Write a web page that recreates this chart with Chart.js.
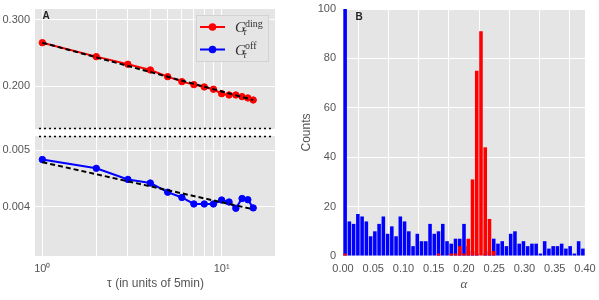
<!DOCTYPE html>
<html>
<head>
<meta charset="utf-8">
<script src="https://cdn.jsdelivr.net/npm/chart.js@4.4.1/dist/chart.umd.min.js"></script>
<style>
  html, body { margin: 0; padding: 0; background: #fff; }
  #wrap { position: relative; width: 599px; height: 300px; overflow: hidden; }
  canvas { position: absolute; }
</style>
</head>
<body>
<div id="wrap">
  <canvas id="aTop" width="290" height="130" style="left:0;top:0;"></canvas>
  <canvas id="aBot" width="290" height="170" style="left:0;top:130px;"></canvas>
  <canvas id="panelB" width="309" height="300" style="left:290px;top:0;"></canvas>
</div>
<script>
// ---- panel A data: correlation vs lag tau ----
const tau = [1, 2, 3, 4, 5, 6, 7, 8, 9, 10, 11, 12, 13, 14, 15];
const gDiag = [0.2606, 0.2394, 0.2286, 0.2208, 0.2120, 0.2057, 0.2020, 0.1992,
               0.1964, 0.1912, 0.1897, 0.1897, 0.1878, 0.1863, 0.1840];
const gOff = [0.004817, 0.004654, 0.004456, 0.004393, 0.004238, 0.004151, 0.004047, 0.004047,
              0.004047, 0.004110, 0.004078, 0.003979, 0.004135, 0.004115, 0.003985];
const fitTau = [1, 15];
const fitDiag = [0.2606, 0.1840];
const fitOff = [0.004768, 0.003963];
const tauTicks = [1, 2, 3, 4, 5, 6, 7, 8, 9, 10, 20];
const diagTicks = [0.2, 0.3];
const offTicks = [0.004, 0.005];
const legendNames = ["ding", "off"];

// ---- panel B data: histogram of alpha ----
const alphaMax = 0.4;
const alphaBlue = [130, 14, 13, 17, 16, 14, 8, 10, 13, 16, 9, 12, 8, 16, 14, 10, 4, 9, 6, 6,
                   13, 9, 10, 13, 6, 5, 7, 7, 13, 4, 2, 1, 0, 1, 2, 7, 5, 6, 4, 9,
                   10, 5, 6, 4, 5, 5, 1, 6, 3, 4, 4, 5, 3, 4, 1, 6, 3];
const alphaRed = [1, 0, 0, 0, 0, 0, 0, 0, 0, 0, 0, 0, 0, 0, 0, 0, 0, 0, 0, 0,
                  0, 0, 1, 0, 0, 1, 1, 4, 1, 7, 31, 75, 91, 44, 15, 2, 0, 0, 0, 0,
                  0, 0, 0, 0, 0, 0, 0, 0, 0, 0, 0, 0, 0, 0, 0, 0, 0];
const alphaTicks = [0, 0.05, 0.1, 0.15, 0.2, 0.25, 0.3, 0.35, 0.4];
const countTicks = [0, 20, 40, 60, 80, 100];

const RED = "#ff0000";
const BLUE = "#0000ff";
const BG = "#e5e5e5";
const TICK = "#555555";

Chart.defaults.font.family = "'Liberation Sans', Arial, sans-serif";
Chart.defaults.animation = false;
Chart.defaults.plugins.legend.display = false;
Chart.defaults.plugins.tooltip.enabled = false;

const grid = { color: "#ffffff", lineWidth: 1, drawTicks: false };
const tickFont = { size: 11 };

// grey panel background
const panelBg = {
  id: "panelBg",
  beforeDraw(chart) {
    const { ctx, chartArea: a } = chart;
    ctx.save();
    ctx.fillStyle = BG;
    ctx.fillRect(a.left, a.top, a.right - a.left, a.bottom - a.top);
    ctx.restore();
  },
};

function dottedEdge(edge) {
  return {
    id: "dotted-" + edge,
    afterDraw(chart) {
      const { ctx, chartArea: a } = chart;
      const y = edge === "bottom" ? a.bottom - 0.5 : a.top + 0.5;
      ctx.save();
      ctx.strokeStyle = "#000";
      ctx.lineWidth = 1.6;
      ctx.setLineDash([2, 3]);
      ctx.beginPath();
      ctx.moveTo(a.left + 4, y);
      ctx.lineTo(a.right - 3, y);
      ctx.stroke();
      ctx.restore();
    },
  };
}

function panelLetter(text, dx, dy) {
  return {
    id: "letter-" + text,
    afterDraw(chart) {
      const { ctx, chartArea: a } = chart;
      ctx.save();
      ctx.fillStyle = "#222";
      ctx.font = "bold 10px 'Liberation Sans', Arial, sans-serif";
      ctx.textAlign = "center";
      ctx.textBaseline = "middle";
      ctx.fillText(text, a.left + dx, a.top + dy);
      ctx.restore();
    },
  };
}

// legend with line+marker and math-style labels
const legendA = {
  id: "legendA",
  afterDraw(chart) {
    const ctx = chart.ctx;
    const colors = [RED, BLUE];
    ctx.save();
    ctx.fillStyle = BG;
    ctx.fillRect(196, 15, 73, 47);
    ctx.strokeStyle = "#d2d2d2";
    ctx.lineWidth = 1;
    ctx.strokeRect(196.5, 15.5, 72, 46);
    legendNames.forEach((name, i) => {
      const y = 27 + i * 22.5;
      ctx.strokeStyle = colors[i];
      ctx.lineWidth = 2;
      ctx.beginPath();
      ctx.moveTo(200, y);
      ctx.lineTo(225, y);
      ctx.stroke();
      ctx.fillStyle = colors[i];
      ctx.beginPath();
      ctx.arc(212.5, y, 3.8, 0, Math.PI * 2);
      ctx.fill();
      ctx.fillStyle = "#333";
      ctx.textBaseline = "alphabetic";
      ctx.textAlign = "left";
      ctx.font = "italic 15px 'Liberation Serif', 'DejaVu Serif', serif";
      ctx.fillText("G", 235, y + 5);
      ctx.font = "italic 10px 'Liberation Serif', 'DejaVu Serif', serif";
      ctx.fillText("\u03c4", 243, y + 8);
      ctx.font = "10px 'Liberation Serif', 'DejaVu Serif', serif";
      ctx.fillText(name, 245, y - 0.5);
    });
    ctx.restore();
  },
};

const toPts = (xs, ys) => xs.map((x, i) => ({ x, y: ys[i] }));

function lineSets(vals, fit, color) {
  return [
    {
      data: toPts(fitTau, fit),
      borderColor: "#000",
      borderWidth: 2,
      borderDash: [5, 3],
      pointRadius: 0,
      order: 0,
    },
    {
      data: toPts(tau, vals),
      borderColor: color,
      backgroundColor: color,
      borderWidth: 2,
      pointRadius: 3.2,
      pointBorderWidth: 1,
      pointBackgroundColor: color,
      pointBorderColor: color,
      order: 1,
    },
  ];
}

const fitX = (h) => (s) => { s.height = h; s.paddingLeft = 0; s.paddingRight = 0; };
const fitY = (w) => (s) => { s.width = w; s.paddingTop = 0; s.paddingBottom = 0; };

const xTau = (showLabels) => ({
  type: "logarithmic",
  min: 0.91,
  max: 20.1,
  grid,
  border: { display: false },
  afterBuildTicks: (s) => { s.ticks = tauTicks.map((v) => ({ value: v })); },
  afterFit: fitX(showLabels ? 44 : 0),
  ticks: {
    display: showLabels,
    autoSkip: false,
    maxRotation: 0,
    padding: 6,
    color: TICK,
    font: tickFont,
    callback: (v) => (v === 1 ? "10\u2070" : v === 10 ? "10\u00b9" : ""),
  },
  title: {
    display: showLabels,
    text: "\u03c4 (in units of 5min)",
    color: TICK,
    font: { size: 12 },
    padding: { top: 0, bottom: 9 },
  },
});

const yLog = (min, max, ticks) => ({
  type: "logarithmic",
  min,
  max,
  grid,
  border: { display: false },
  afterBuildTicks: (s) => { s.ticks = ticks.map((v) => ({ value: v })); },
  afterFit: fitY(35),
  ticks: { padding: 5, color: TICK, font: tickFont, callback: (v) => v.toFixed(3) },
});

new Chart(document.getElementById("aTop"), {
  type: "line",
  data: { datasets: lineSets(gDiag, fitDiag, RED) },
  options: {
    responsive: false,
    layout: { autoPadding: false, padding: { top: 9, right: 14, bottom: 1, left: 0 } },
    scales: { x: xTau(false), y: yLog(0.1543, 0.3197, diagTicks) },
  },
  plugins: [panelBg, dottedEdge("bottom"), panelLetter("A", 11, 7), legendA],
});

new Chart(document.getElementById("aBot"), {
  type: "line",
  data: { datasets: lineSets(gOff, fitOff, BLUE) },
  options: {
    responsive: false,
    layout: { autoPadding: false, padding: { top: 6, right: 14, bottom: 0, left: 0 } },
    scales: { x: xTau(true), y: yLog(0.00333, 0.005283, offTicks) },
  },
  plugins: [panelBg, dottedEdge("top")],
});

// ---- panel B ----
const binWidth = alphaMax / alphaBlue.length;
const binCenters = alphaBlue.map((_, i) => (i + 0.5) * binWidth);

new Chart(document.getElementById("panelB"), {
  type: "bar",
  data: {
    datasets: [
      {
        data: toPts(binCenters, alphaRed),
        backgroundColor: RED,
        grouped: false,
        barPercentage: 0.84,
        categoryPercentage: 1,
        order: 0,
      },
      {
        data: toPts(binCenters, alphaBlue),
        backgroundColor: BLUE,
        grouped: false,
        barPercentage: 0.84,
        categoryPercentage: 1,
        order: 1,
      },
    ],
  },
  options: {
    responsive: false,
    layout: { autoPadding: false, padding: { top: 9, right: 14, bottom: 0, left: 0 } },
    scales: {
      x: {
        type: "linear",
        min: 0,
        max: alphaMax,
        offset: false,
        grid,
        border: { display: false },
        afterBuildTicks: (s) => { s.ticks = alphaTicks.map((v) => ({ value: v })); },
        afterFit: fitX(44),
        ticks: {
          autoSkip: false,
          maxRotation: 0,
          padding: 6,
          color: TICK,
          font: tickFont,
          callback: (v) => v.toFixed(2),
        },
        title: {
          display: true,
          text: "\u03b1",
          color: TICK,
          font: { size: 13, style: "italic", family: "'Liberation Serif', 'DejaVu Serif', serif" },
          padding: { top: 0, bottom: 8 },
        },
      },
      y: {
        min: 0,
        max: 100,
        grid,
        border: { display: false },
        afterBuildTicks: (s) => { s.ticks = countTicks.map((v) => ({ value: v })); },
        afterFit: fitY(53),
        ticks: { padding: 7, color: TICK, font: tickFont },
        title: {
          display: true,
          text: "Counts",
          color: TICK,
          font: { size: 12 },
          padding: { top: 9, bottom: 0 },
        },
      },
    },
  },
  plugins: [panelBg, panelLetter("B", 16, 8)],
});
</script>
</body>
</html>
